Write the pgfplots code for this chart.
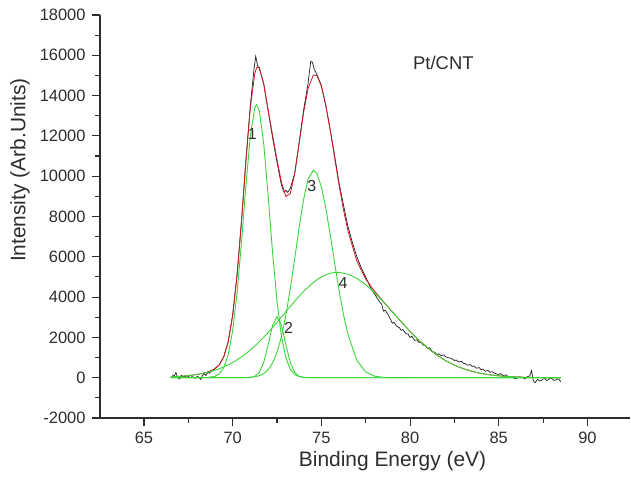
\documentclass[border=0pt]{standalone}
\usepackage{fontspec}
\setmainfont{Liberation Sans}
\usepackage{pgfplots}
\pgfplotsset{compat=1.18}
\definecolor{fitred}{RGB}{205,25,35}
\definecolor{compgreen}{RGB}{55,215,55}
\definecolor{axgray}{RGB}{45,45,45}
\definecolor{rawblack}{RGB}{30,30,30}
\begin{document}
\begin{tikzpicture}
\useasboundingbox (0bp,0bp) rectangle (631bp,481bp);
\begin{axis}[
 at={(100bp,63bp)}, anchor=south west,
 width=530bp, height=403bp, scale only axis,
 xmin=62.52, xmax=92.4, ymin=-2000, ymax=18000,
 axis x line*=bottom, axis y line*=left,
 axis line style={axgray, line width=1.3pt},
 xtick={65,70,...,90}, ytick={-2000,0,...,18000},
 minor x tick num=1, minor y tick num=1,
 tick align=outside, major tick length=8bp, minor tick length=4.5bp,
 every tick/.style={axgray, line width=1.1pt},
 tick label style={font=\fontsize{16.5}{18}\selectfont, text=axgray},
 yticklabel style={xshift=-3bp},
 xticklabel style={yshift=-3bp},
 /pgf/number format/assume math mode=true,
 /pgf/number format/set thousands separator={},
 scaled y ticks=false,
 xlabel={Binding Energy (eV)}, ylabel={Intensity (Arb.Units)},
 label style={font=\fontsize{21}{24}\selectfont, text=axgray},
 xlabel style={at={(axis description cs:0.552,-0.107)}, anchor=center},
 ylabel style={at={(axis description cs:-0.151,0.615)}, anchor=center},
 clip=false
]
% raw data
\addplot[rawblack, line width=0.7pt] coordinates {
(66.6,150)(66.7,60)(66.8,250)(66.9,20)(67.0,-60)(67.1,120)(67.2,40)(67.3,80)(67.4,20)(67.5,60)
(67.6,10)(67.7,50)(67.8,30)(67.9,-20)(68.0,60)(68.1,20)(68.2,-90)(68.3,120)(68.4,200)(68.5,110)
(68.6,280)(68.7,220)(68.8,350)(68.9,330)(69.0,460)(69.25,640)(69.5,1050)(69.75,1800)(70.0,3120)
(70.25,5150)(70.5,7800)(70.75,10850)(71.0,13550)(71.2,15300)(71.3,15950)(71.4,15500)(71.5,15350)
(71.75,14600)(72.0,13250)(72.25,11900)(72.5,10700)(72.75,9550)(72.9,9200)(73.0,9300)(73.1,9200)
(73.25,9400)(73.5,10150)(73.75,11700)(74.0,13300)(74.25,14600)(74.4,15700)(74.5,15650)(74.6,15300)
(74.75,15050)(75.0,14500)(75.25,13500)(75.5,12300)(75.75,11000)(76.0,9650)(76.25,8550)(76.5,7500)
(76.75,6700)(77.0,6000)(77.25,5450)(77.5,5000)(77.75,4500)(78.0,4150)(78.25,3800)(78.4,3650)(78.5,3300)
(78.6,3350)(78.75,3150)(78.9,2900)(79.0,2700)(79.1,2750)(79.25,2550)(79.4,2480)(79.5,2350)(79.6,2390)
(79.75,2200)(79.9,2150)(80.0,2000)(80.1,2060)(80.25,1850)(80.4,1880)(80.5,1750)(80.6,1770)(80.75,1620)
(80.9,1560)(81.0,1450)(81.1,1490)(81.25,1300)(81.4,1260)(81.5,1150)(81.6,1190)(81.75,1100)(81.9,1130)
(82.0,1050)(82.1,1000)(82.25,980)(82.4,920)(82.5,850)(82.6,880)(82.75,780)(82.9,810)(83.0,720)
(83.1,700)(83.25,620)(83.4,650)(83.5,560)(83.6,580)(83.75,470)(83.9,500)(84.0,400)(84.1,430)(84.25,320)
(84.4,360)(84.5,270)(84.6,300)(84.75,230)(84.9,180)(85.0,160)(85.1,200)(85.25,110)(85.4,140)(85.5,80)
(85.6,20)(85.75,40)(85.9,-40)(86.0,-30)(86.1,40)(86.25,20)(86.4,-20)(86.5,-60)(86.6,40)(86.75,100)
(86.85,350)(86.95,-150)(87.05,-250)(87.2,-80)(87.3,-160)(87.4,-150)(87.5,-60)(87.6,-40)(87.7,-140)
(87.8,-100)(87.9,-30)(88.0,-50)(88.1,-130)(88.2,-120)(88.3,-60)(88.4,-90)(88.5,-200)
};
% fit envelope
\addplot[fitred, line width=0.8pt] coordinates {
(66.5,39)(67,64)(67.5,104)(68,163)(68.5,252)(69,437)(69.25,641)(69.5,1036)(69.75,1788)(70,3092)
(70.25,5105)(70.5,7784)(70.75,10785)(71,13449)(71.25,15102)(71.35,15384)(71.5,15397)(71.75,14580)
(72,13293)(72.25,12029)(72.5,10828)(72.75,9696)(73,8995)(73.25,9142)(73.5,10145)(73.75,11639)
(74,13163)(74.25,14348)(74.55,15027)(74.75,14991)(75,14473)(75.25,13521)(75.5,12277)(75.75,10904)
(76,9548)(76.25,8319)(76.5,7280)(77,5792)(77.5,4899)(78,4291)(78.5,3776)(79,3274)(79.5,2778)
(80,2301)(80.5,1862)(81,1469)(81.5,1131)(82,850)(82.5,623)(83,446)(83.5,312)(84,213)(84.5,141)
(85,92)(85.5,58)(86,36)(86.5,22)(87,12)(87.5,6)(88,3)(88.5,1)
};
% components
\addplot[compgreen, line width=0.9pt] coordinates {
(66.5,0)(68.5,2)(69,66)(69.25,193)(69.5,499)(69.75,1148)(70,2336)(70.25,4217)(70.5,6748)(70.75,9577)
(71,12040)(71.25,13420)(71.35,13550)(71.5,13259)(71.75,11612)(72,9011)(72.25,6206)(72.5,3786)
(72.75,2046)(73,981)(73.25,416)(73.5,157)(73.75,52)(74,16)(74.5,1)(75,0)(88.5,0)
};
\addplot[compgreen, line width=0.9pt] coordinates {
(66.5,0)(70.5,0)(71,12)(71.25,64)(71.5,257)(71.75,756)(72,1635)(72.25,2597)(72.5,3030)(72.75,2597)
(73,1635)(73.25,756)(73.5,257)(73.75,64)(74,12)(74.5,0)(88.5,0)
};
\addplot[compgreen, line width=0.9pt] coordinates {
(66.5,0)(70.5,3)(70.75,8)(71,19)(71.25,44)(71.5,98)(71.75,204)(72,399)(72.25,731)(72.5,1260)
(72.75,2039)(73,3100)(73.25,4429)(73.5,5933)(73.75,7478)(74,8854)(74.25,9847)(74.55,10300)
(74.75,10131)(75,9473)(75.25,8412)(75.5,7093)(75.75,5680)(76,4321)(76.25,3120)(76.5,2141)(77,862)
(77.5,283)(78,75)(78.5,16)(79,3)(80,0)(88.5,0)
};
\addplot[compgreen, line width=0.9pt] coordinates {
(66.5,39)(67,64)(67.5,104)(68,163)(68.5,250)(69,371)(69.25,448)(69.5,537)(69.75,640)(70,756)
(70.25,888)(70.5,1036)(70.75,1198)(71,1378)(71.25,1574)(71.5,1783)(71.75,2008)(72,2248)(72.25,2495)
(72.5,2752)(72.75,3014)(73,3279)(73.25,3541)(73.5,3798)(73.75,4045)(74,4281)(74.25,4497)(74.55,4727)
(74.75,4860)(75,5000)(75.25,5109)(75.5,5184)(75.75,5224)(76,5227)(76.5,5139)(77,4930)(77.5,4616)
(78,4216)(78.5,3760)(79,3271)(79.5,2778)(80,2301)(80.5,1862)(81,1469)(81.5,1131)(82,850)(82.5,623)
(83,446)(83.5,312)(84,213)(84.5,141)(85,92)(85.5,58)(86,36)(86.5,22)(87,12)(87.5,6)(88,3)(88.5,1)
};
\node[font=\fontsize{16}{18}\selectfont, text=axgray] at (axis cs:71.1,12100) {1};
\node[font=\fontsize{16}{18}\selectfont, text=axgray] at (axis cs:73.15,2450) {2};
\node[font=\fontsize{16}{18}\selectfont, text=axgray] at (axis cs:74.46,9530) {3};
\node[font=\fontsize{16}{18}\selectfont, text=axgray] at (axis cs:76.22,4710) {4};
\node[font=\fontsize{18.5}{20}\selectfont, text=axgray] at (axis cs:81.88,15620) {Pt/CNT};
\end{axis}
\end{tikzpicture}
\end{document}
